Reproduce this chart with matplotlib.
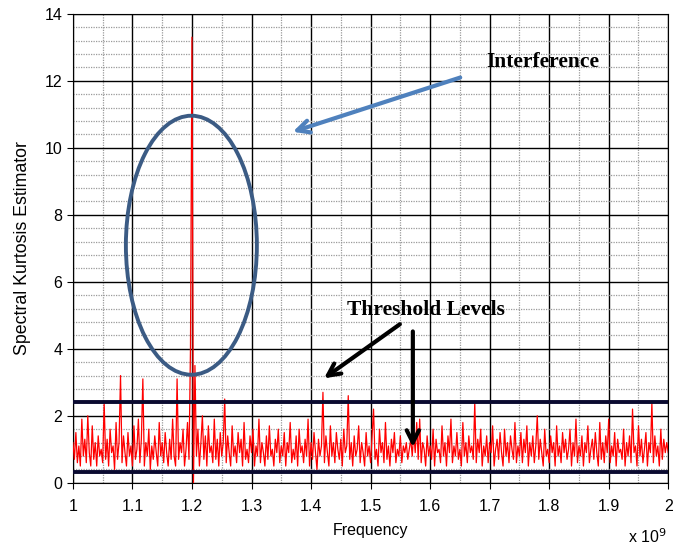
"""Spectral kurtosis estimate with interference and threshold levels."""

import matplotlib
matplotlib.use('Agg')
import matplotlib.pyplot as plt
from matplotlib.patches import Ellipse
from matplotlib.ticker import MultipleLocator
import numpy as np

# Spectral kurtosis estimate, one value per bin from 1.0 to 2.0 (x 1e9)
sk_values = [
    1.2, 0.7, 1.5, 0.6, 1.1, 0.5, 1.9, 0.8, 1.3, 0.6, 2.0, 0.9, 0.5, 1.7, 0.7, 1.2, 0.5, 1.4, 0.8, 1.0,
    0.6, 2.4, 0.7, 1.3, 0.5, 1.6, 0.9, 1.1, 0.4, 1.8, 0.7, 1.2, 3.2, 0.6, 1.4, 0.9, 0.5, 1.5, 0.8, 1.1,
    0.5, 1.7, 0.7, 1.0, 1.9, 0.6, 1.3, 3.1, 0.5, 1.2, 0.8, 1.6, 0.4, 1.1, 0.7, 1.4, 0.9, 0.5, 1.8, 0.8,
    1.2, 0.6, 1.5, 0.9, 0.5, 1.3, 0.7, 1.9, 0.8, 0.5, 3.1, 0.7, 1.2, 0.9, 1.6, 0.5, 1.0, 1.8, 0.7, 4.0,
    13.3, 0.0, 3.5, 0.8, 1.6, 0.5, 1.2, 2.0, 0.7, 1.4, 0.5, 1.7, 0.9, 1.1, 0.6, 1.9, 0.7, 1.3, 0.5, 1.5,
    0.8, 1.2, 2.5, 0.6, 1.4, 0.9, 0.5, 1.7, 0.8, 1.1, 0.6, 1.5, 0.9, 1.3, 0.5, 1.8, 0.7, 1.0, 0.6, 1.4,
    0.9, 1.6, 0.5, 1.1, 0.8, 1.9, 0.6, 1.2, 0.9, 0.5, 1.4, 0.7, 1.7, 0.8, 1.0, 0.5, 1.3, 0.9, 1.6, 0.6,
    1.1, 0.8, 1.5, 0.5, 1.2, 0.9, 1.8, 0.6, 1.0, 0.7, 1.4, 0.5, 1.6, 0.9, 1.1, 0.6, 1.3, 0.8, 1.9, 0.5,
    1.2, 0.7, 1.5, 0.9, 0.4, 1.3, 0.8, 1.1, 2.7, 0.6, 1.4, 0.9, 0.5, 1.7, 0.8, 1.2, 0.6, 1.5, 1.0, 0.7,
    1.3, 0.5, 1.6, 0.9, 1.1, 2.6, 0.7, 1.2, 0.5, 1.4, 0.8, 1.0, 1.7, 0.6, 1.2, 0.9, 0.5, 1.5, 0.8, 1.1,
    0.6, 1.4, 2.2, 0.7, 1.0, 0.5, 1.6, 0.9, 1.2, 0.6, 1.8, 0.7, 1.1, 0.5, 1.3, 0.9, 1.5, 0.6, 1.0, 0.8,
    1.4, 0.6, 1.1, 0.9, 1.2, 0.7, 1.0, 1.3, 0.8, 1.5, 0.9, 1.8, 0.7, 1.9, 0.6, 1.2, 1.0, 0.5, 1.4, 0.8,
    1.1, 0.7, 1.6, 0.5, 1.3, 0.9, 1.0, 0.6, 1.7, 0.8, 1.2, 0.5, 1.4, 0.9, 1.9, 0.6, 1.1, 0.8, 1.5, 0.7,
    1.0, 0.5, 1.8, 0.8, 1.2, 0.6, 1.4, 0.9, 1.1, 0.7, 2.4, 0.6, 1.3, 0.9, 1.6, 0.5, 1.1, 0.8, 1.4, 0.6,
    1.2, 0.9, 1.7, 0.5, 1.0, 1.3, 0.7, 1.5, 0.9, 0.5, 1.6, 0.8, 1.2, 0.6, 1.4, 1.0, 0.7, 1.8, 0.6, 1.1,
    0.8, 1.5, 0.6, 1.3, 0.9, 1.7, 0.5, 1.2, 0.8, 1.4, 0.6, 1.1, 2.0, 0.7, 1.3, 0.9, 0.5, 1.6, 0.8, 1.0,
    0.6, 1.4, 0.9, 1.2, 0.5, 1.7, 0.8, 1.1, 0.6, 1.5, 0.9, 1.3, 0.7, 1.0, 1.6, 0.5, 1.2, 0.8, 1.9, 0.6,
    1.1, 0.8, 1.4, 0.5, 1.2, 0.9, 1.7, 0.6, 1.0, 1.3, 0.7, 1.5, 0.9, 0.5, 1.8, 0.7, 1.2, 0.6, 1.4, 0.9,
    1.9, 0.6, 1.1, 0.8, 1.5, 0.5, 1.3, 0.9, 1.0, 0.7, 1.6, 0.5, 1.2, 0.8, 1.4, 0.6, 2.2, 0.9, 1.1, 0.5,
    1.7, 0.8, 1.3, 0.6, 1.0, 1.5, 0.5, 1.2, 0.9, 2.4, 0.6, 1.4, 0.8, 1.1, 0.5, 1.6, 0.7, 1.3, 0.9, 1.2,
    0.9,
]
freq_start = 1.0   # x 1e9
freq_stop = 2.0
threshold_levels = [2.42, 0.33]
x_ticks = [1.0, 1.1, 1.2, 1.3, 1.4, 1.5, 1.6, 1.7, 1.8, 1.9, 2.0]
x_tick_labels = ['1', '1.1', '1.2', '1.3', '1.4', '1.5', '1.6', '1.7', '1.8', '1.9', '2']
y_ticks = [0, 2, 4, 6, 8, 10, 12, 14]

freq = np.linspace(freq_start, freq_stop, len(sk_values))

fig = plt.figure(figsize=(6.75, 5.48), dpi=100)
ax = fig.add_axes([0.108, 0.119, 0.882, 0.856])

ax.set_xlim(1.0, 2.0)
ax.set_ylim(0, 14)
ax.set_xticks(x_ticks)
ax.set_xticklabels(x_tick_labels)
ax.set_yticks(y_ticks)
ax.xaxis.set_minor_locator(MultipleLocator(0.05))
ax.yaxis.set_minor_locator(MultipleLocator(0.4))
ax.grid(True, which='major', color='black', linewidth=1.0)
ax.grid(True, which='minor', color='#9a9a9a', linestyle=(0, (1, 1)), linewidth=0.9)
ax.set_axisbelow(True)
ax.tick_params(which='minor', length=0)
ax.tick_params(which='major', labelsize=11.5, length=4, direction='out')
ax.tick_params(axis='x', pad=8)
for lbl in ax.get_xticklabels() + ax.get_yticklabels():
    lbl.set_family('Liberation Sans')

ax.plot(freq, sk_values, color='red', linewidth=0.9, zorder=3)

for level in threshold_levels:
    ax.axhline(level, color='#0a0a30', linewidth=2.8, zorder=4)

ax.add_patch(Ellipse((1.199, 7.09), 0.22, 7.73, fill=False,
                     edgecolor='#3b5b84', linewidth=2.8, zorder=5))

ax.annotate('', xy=(1.365, 10.45), xytext=(1.655, 12.12),
            arrowprops=dict(arrowstyle='->', color='#4f81bd', lw=3,
                            mutation_scale=22), zorder=6)
ax.text(1.79, 12.57, 'Interference', ha='center', va='center',
        fontsize=15.5, fontweight='bold', family='Liberation Serif', zorder=6)

ax.annotate('', xy=(1.418, 3.07), xytext=(1.553, 4.78),
            arrowprops=dict(arrowstyle='->', color='black', lw=3,
                            mutation_scale=22), zorder=6)
ax.annotate('', xy=(1.571, 0.98), xytext=(1.571, 4.6),
            arrowprops=dict(arrowstyle='->', color='black', lw=3,
                            mutation_scale=22), zorder=6)
ax.text(1.593, 5.16, 'Threshold Levels', ha='center', va='center',
        fontsize=15.5, fontweight='bold', family='Liberation Serif', zorder=6)

ax.set_xlabel('Frequency', fontsize=11.5, family='Liberation Sans', labelpad=6)
ax.set_ylabel('Spectral Kurtosis Estimator', fontsize=12.8,
              family='Liberation Sans', labelpad=10)
fig.text(0.93, 0.003, r'x 10$^{9}$', ha='left', va='bottom', fontsize=11.5,
         family='Liberation Sans')

fig.savefig('out.png', dpi=100)
